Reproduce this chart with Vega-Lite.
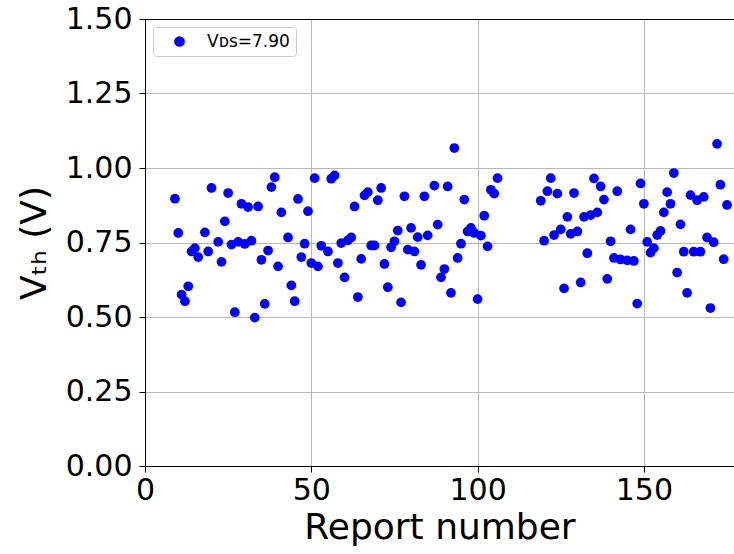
{
  "$schema": "https://vega.github.io/schema/vega-lite/v6.json",
  "width": 589,
  "height": 447,
  "autosize": "none",
  "padding": {"left": 145, "top": 19, "right": 0, "bottom": 88},
  "background": "white",
  "data": {
    "values": [
      {"report": 9, "vth": 0.897}, {"report": 10, "vth": 0.782}, {"report": 11, "vth": 0.575},
      {"report": 12, "vth": 0.553}, {"report": 13, "vth": 0.603}, {"report": 14, "vth": 0.72},
      {"report": 15, "vth": 0.731}, {"report": 16, "vth": 0.701}, {"report": 18, "vth": 0.784},
      {"report": 19, "vth": 0.72}, {"report": 20, "vth": 0.933}, {"report": 22, "vth": 0.752},
      {"report": 23, "vth": 0.685}, {"report": 24, "vth": 0.821}, {"report": 25, "vth": 0.916},
      {"report": 26, "vth": 0.743}, {"report": 27, "vth": 0.516}, {"report": 28, "vth": 0.752},
      {"report": 29, "vth": 0.88}, {"report": 30, "vth": 0.745}, {"report": 31, "vth": 0.869},
      {"report": 32, "vth": 0.756}, {"report": 33, "vth": 0.498}, {"report": 34, "vth": 0.871},
      {"report": 35, "vth": 0.692}, {"report": 36, "vth": 0.544}, {"report": 37, "vth": 0.723},
      {"report": 38, "vth": 0.936}, {"report": 39, "vth": 0.969}, {"report": 40, "vth": 0.67},
      {"report": 41, "vth": 0.851}, {"report": 43, "vth": 0.767}, {"report": 44, "vth": 0.606},
      {"report": 45, "vth": 0.553}, {"report": 46, "vth": 0.896}, {"report": 47, "vth": 0.701},
      {"report": 48, "vth": 0.746}, {"report": 49, "vth": 0.855}, {"report": 50, "vth": 0.681},
      {"report": 51, "vth": 0.966}, {"report": 52, "vth": 0.67}, {"report": 53, "vth": 0.739},
      {"report": 55, "vth": 0.72}, {"report": 56, "vth": 0.964}, {"report": 57, "vth": 0.975},
      {"report": 58, "vth": 0.681}, {"report": 59, "vth": 0.748}, {"report": 60, "vth": 0.633},
      {"report": 61, "vth": 0.757}, {"report": 62, "vth": 0.767}, {"report": 63, "vth": 0.871},
      {"report": 64, "vth": 0.567}, {"report": 65, "vth": 0.695}, {"report": 66, "vth": 0.908},
      {"report": 67, "vth": 0.919}, {"report": 68, "vth": 0.74}, {"report": 69, "vth": 0.74},
      {"report": 70, "vth": 0.892}, {"report": 71, "vth": 0.933}, {"report": 72, "vth": 0.678},
      {"report": 73, "vth": 0.6}, {"report": 74, "vth": 0.734}, {"report": 75, "vth": 0.754},
      {"report": 76, "vth": 0.79}, {"report": 77, "vth": 0.549}, {"report": 78, "vth": 0.905},
      {"report": 79, "vth": 0.726}, {"report": 80, "vth": 0.799}, {"report": 81, "vth": 0.72},
      {"report": 82, "vth": 0.768}, {"report": 83, "vth": 0.675}, {"report": 84, "vth": 0.905},
      {"report": 85, "vth": 0.774}, {"report": 87, "vth": 0.941}, {"report": 88, "vth": 0.81},
      {"report": 89, "vth": 0.633}, {"report": 90, "vth": 0.661}, {"report": 91, "vth": 0.938},
      {"report": 92, "vth": 0.581}, {"report": 93, "vth": 1.067}, {"report": 94, "vth": 0.698},
      {"report": 95, "vth": 0.746}, {"report": 96, "vth": 0.894}, {"report": 97, "vth": 0.787},
      {"report": 98, "vth": 0.799}, {"report": 99, "vth": 0.782}, {"report": 100, "vth": 0.56},
      {"report": 101, "vth": 0.773}, {"report": 102, "vth": 0.84}, {"report": 103, "vth": 0.737},
      {"report": 104, "vth": 0.927}, {"report": 105, "vth": 0.914}, {"report": 106, "vth": 0.966},
      {"report": 119, "vth": 0.89}, {"report": 120, "vth": 0.756}, {"report": 121, "vth": 0.922},
      {"report": 122, "vth": 0.966}, {"report": 123, "vth": 0.775}, {"report": 124, "vth": 0.914},
      {"report": 125, "vth": 0.794}, {"report": 126, "vth": 0.596}, {"report": 127, "vth": 0.836},
      {"report": 128, "vth": 0.779}, {"report": 129, "vth": 0.916}, {"report": 130, "vth": 0.787},
      {"report": 131, "vth": 0.616}, {"report": 132, "vth": 0.836}, {"report": 133, "vth": 0.714},
      {"report": 134, "vth": 0.842}, {"report": 135, "vth": 0.965}, {"report": 136, "vth": 0.851},
      {"report": 137, "vth": 0.938}, {"report": 138, "vth": 0.894}, {"report": 139, "vth": 0.628},
      {"report": 140, "vth": 0.754}, {"report": 141, "vth": 0.698}, {"report": 142, "vth": 0.922},
      {"report": 143, "vth": 0.693}, {"report": 145, "vth": 0.69}, {"report": 146, "vth": 0.794},
      {"report": 147, "vth": 0.688}, {"report": 148, "vth": 0.545}, {"report": 149, "vth": 0.948},
      {"report": 150, "vth": 0.88}, {"report": 151, "vth": 0.752}, {"report": 152, "vth": 0.716},
      {"report": 153, "vth": 0.731}, {"report": 154, "vth": 0.775}, {"report": 155, "vth": 0.789},
      {"report": 156, "vth": 0.851}, {"report": 157, "vth": 0.919}, {"report": 158, "vth": 0.88},
      {"report": 159, "vth": 0.983}, {"report": 160, "vth": 0.649}, {"report": 161, "vth": 0.811},
      {"report": 162, "vth": 0.719}, {"report": 163, "vth": 0.581}, {"report": 164, "vth": 0.909},
      {"report": 165, "vth": 0.719}, {"report": 166, "vth": 0.892}, {"report": 167, "vth": 0.719},
      {"report": 168, "vth": 0.903}, {"report": 169, "vth": 0.767}, {"report": 170, "vth": 0.53},
      {"report": 171, "vth": 0.751}, {"report": 172, "vth": 1.081}, {"report": 173, "vth": 0.944},
      {"report": 174, "vth": 0.694}, {"report": 175, "vth": 0.876}
    ]
  },
  "layer": [
    {
      "mark": {"type": "point", "filled": true, "size": 95, "opacity": 1, "strokeWidth": 0},
      "encoding": {
        "x": {
          "field": "report",
          "type": "quantitative",
          "scale": {"domain": [0, 177.1], "nice": false, "zero": false},
          "axis": {
            "values": [0, 50, 100, 150],
            "format": "d",
            "title": "Report number",
            "labelFlush": false,
            "labelOverlap": false,
            "tickSize": 6,
            "labelPadding": 3,
            "titlePadding": 5
          }
        },
        "y": {
          "field": "vth",
          "type": "quantitative",
          "scale": {"domain": [0, 1.5], "nice": false},
          "axis": {
            "values": [0, 0.25, 0.5, 0.75, 1.0, 1.25, 1.5],
            "format": ".2f",
            "title": "Vₜₕ (V)",
            "labelOverlap": false,
            "tickSize": 6,
            "labelPadding": 7,
            "titlePadding": 12
          }
        },
        "color": {
          "datum": "Vᴅꜱ=7.90",
          "type": "nominal",
          "scale": {"range": ["#0000ff"]},
          "legend": {
            "title": null,
            "orient": "top-left",
            "offset": 8,
            "padding": 6,
            "symbolOffset": 12,
            "symbolType": "circle",
            "symbolSize": 115,
            "symbolStrokeWidth": 0,
            "labelFontSize": 17,
            "labelFont": "DejaVu Sans",
            "labelColor": "black",
            "labelOffset": 19,
            "strokeColor": "#cccccc",
            "fillColor": "white",
            "cornerRadius": 3
          }
        }
      }
    },
    {
      "mark": {"type": "point", "opacity": 0},
      "encoding": {
        "x": {
          "field": "report",
          "type": "quantitative",
          "axis": {
            "orient": "top",
            "labels": false,
            "ticks": false,
            "grid": false,
            "title": null,
            "domainColor": "black"
          }
        }
      }
    }
  ],
  "resolve": {"axis": {"x": "independent"}},
  "config": {
    "view": {"stroke": null},
    "axis": {
      "domainColor": "black",
      "domainWidth": 1,
      "tickColor": "black",
      "tickWidth": 1,
      "labelColor": "black",
      "labelFont": "DejaVu Sans",
      "labelFontSize": 30,
      "titleColor": "black",
      "titleFont": "DejaVu Sans",
      "titleFontSize": 36,
      "titleFontWeight": "normal",
      "gridColor": "#b8b8b8",
      "gridWidth": 1,
      "gridOpacity": 1
    }
  }
}
